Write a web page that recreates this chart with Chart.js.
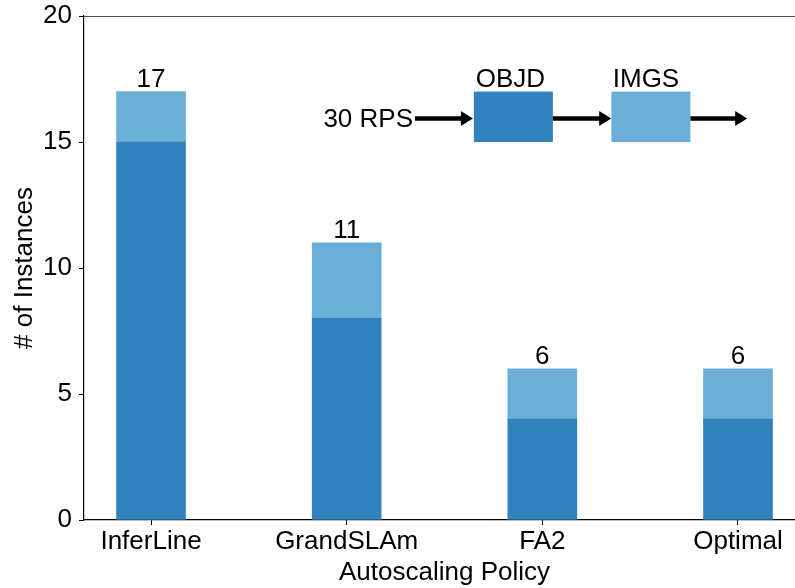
<!DOCTYPE html>
<html>
<head>
<meta charset="utf-8">
<script src="https://cdn.jsdelivr.net/npm/chart.js@4.4.1/dist/chart.umd.min.js"></script>
<style>
  html, body { margin: 0; padding: 0; background: #fff; overflow: hidden; }
  #wrap { width: 810px; height: 588px; }
</style>
</head>
<body>
<div id="wrap"><canvas id="chart"></canvas></div>
<script>
const policies = ['InferLine', 'GrandSLAm', 'FA2', 'Optimal'];
const objdCounts = [15, 8, 4, 4];
const imgsCounts = [2, 3, 2, 2];
const yTicks = [0, 5, 10, 15, 20];

const DARK = '#3182bd';
const LIGHT = '#6baed6';
const FONT = '"Liberation Sans", Arial, sans-serif';

// totals printed above each bar
const totalLabels = {
  id: 'totalLabels',
  afterDatasetsDraw(chart) {
    const { ctx, scales: { x, y } } = chart;
    ctx.save();
    ctx.font = '26px ' + FONT;
    ctx.fillStyle = '#000';
    ctx.textAlign = 'center';
    ctx.textBaseline = 'alphabetic';
    policies.forEach((p, i) => {
      const total = objdCounts[i] + imgsCounts[i];
      ctx.fillText(String(total), x.getPixelForValue(i), y.getPixelForValue(total) - 5);
    });
    ctx.restore();
  }
};

// pipeline sketch: 30 RPS -> OBJD -> IMGS ->
const pipeline = {
  id: 'pipeline',
  afterDatasetsDraw(chart) {
    const { ctx, scales: { x, y } } = chart;
    const px = v => x.getPixelForValue(v);
    const py = v => y.getPixelForValue(v);
    const arrow = (x0, x1, yy) => {
      ctx.strokeStyle = '#000';
      ctx.lineWidth = 4.5;
      ctx.beginPath();
      ctx.moveTo(x0, yy);
      ctx.lineTo(x1 - 10, yy);
      ctx.stroke();
      ctx.fillStyle = '#000';
      ctx.beginPath();
      ctx.moveTo(x1, yy);
      ctx.lineTo(x1 - 12, yy - 7.5);
      ctx.lineTo(x1 - 12, yy + 7.5);
      ctx.closePath();
      ctx.fill();
    };
    ctx.save();
    const ay = py(15.93);
    ctx.font = '26px ' + FONT;
    ctx.fillStyle = '#000';
    ctx.textAlign = 'right';
    ctx.textBaseline = 'middle';
    ctx.fillText('30 RPS', px(1.339), ay + 1);

    ctx.fillStyle = DARK;
    ctx.fillRect(px(1.650), py(17), px(2.054) - px(1.650), py(15) - py(17));
    ctx.fillStyle = LIGHT;
    ctx.fillRect(px(2.353), py(17), px(2.757) - px(2.353), py(15) - py(17));

    arrow(px(1.349), px(1.645), ay);
    arrow(px(2.054), px(2.352), ay);
    arrow(px(2.757), px(3.047), ay);

    ctx.fillStyle = '#000';
    ctx.textAlign = 'left';
    ctx.textBaseline = 'alphabetic';
    ctx.fillText('OBJD', px(1.66), py(17.2));
    ctx.fillText('IMGS', px(2.36), py(17.2));
    ctx.restore();
  }
};

// top spine
const topSpine = {
  id: 'topSpine',
  afterDraw(chart) {
    const { ctx, chartArea } = chart;
    ctx.save();
    ctx.strokeStyle = '#555';
    ctx.lineWidth = 1.2;
    ctx.beginPath();
    ctx.moveTo(chartArea.left, chartArea.top + 0.5);
    ctx.lineTo(chartArea.right, chartArea.top + 0.5);
    ctx.stroke();
    ctx.restore();
  }
};

new Chart(document.getElementById('chart'), {
  type: 'bar',
  data: {
    datasets: [
      {
        label: 'OBJD',
        data: objdCounts.map((v, i) => ({ x: i, y: v })),
        backgroundColor: DARK,
        barThickness: 69
      },
      {
        label: 'IMGS',
        data: imgsCounts.map((v, i) => ({ x: i, y: v })),
        backgroundColor: LIGHT,
        barThickness: 69
      }
    ]
  },
  options: {
    responsive: true,
    maintainAspectRatio: false,
    animation: false,
    layout: { padding: { top: 16, right: 5, left: 0, bottom: 0 } },
    plugins: {
      legend: { display: false },
      tooltip: { enabled: false }
    },
    scales: {
      x: {
        type: 'linear',
        stacked: true,
        offset: false,
        min: -0.3425,
        max: 3.3425,
        afterBuildTicks(scale) {
          scale.ticks = policies.map((p, i) => ({ value: i }));
        },
        afterFit(scale) {
          scale.height = 68;
          scale.paddingLeft = 0;
          scale.paddingRight = 0;
        },
        ticks: {
          callback: v => policies[v],
          font: { family: FONT, size: 26 },
          color: '#000',
          padding: 1,
          maxRotation: 0,
          autoSkip: false
        },
        grid: { offset: false, drawOnChartArea: false, drawTicks: true, tickLength: 5, tickColor: '#000' },
        border: { display: true, color: '#000', width: 1.2 },
        title: {
          display: true,
          text: 'Autoscaling Policy',
          font: { family: FONT, size: 26 },
          color: '#000',
          padding: { top: 0, bottom: 0 }
        }
      },
      y: {
        stacked: true,
        min: 0,
        max: 20,
        afterBuildTicks(scale) {
          scale.ticks = yTicks.map(v => ({ value: v }));
        },
        afterFit(scale) {
          scale.width = 84;
          scale.paddingTop = 0;
          scale.paddingBottom = 0;
        },
        ticks: {
          font: { family: FONT, size: 26 },
          color: '#000',
          padding: 7
        },
        grid: { drawOnChartArea: false, drawTicks: true, tickLength: 5, tickColor: '#000' },
        border: { display: true, color: '#000', width: 1.2 },
        title: {
          display: true,
          text: '# of Instances',
          font: { family: FONT, size: 26 },
          color: '#000',
          padding: { top: 9, bottom: 0 }
        }
      }
    }
  },
  plugins: [totalLabels, pipeline, topSpine]
});
</script>
</body>
</html>
